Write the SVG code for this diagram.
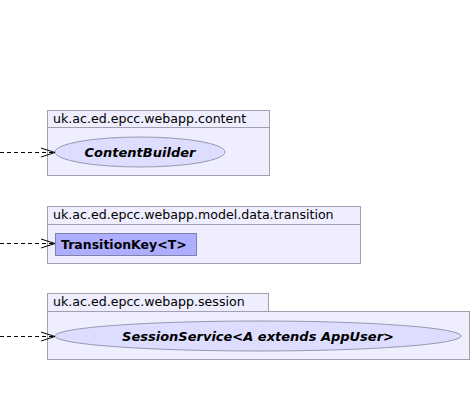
<svg xmlns="http://www.w3.org/2000/svg" width="472" height="406" viewBox="0 0 472 406">
<style>
.pkg{fill:#EEEEFF;stroke:#A0A0B0;stroke-width:1}
.pname{font-family:"DejaVu Sans",sans-serif;font-size:12.6px;fill:#000}
.iface{fill:#DDDDFF;stroke:#9898B0;stroke-width:1}
.cls{fill:#AEAEFF;stroke:#8080A8;stroke-width:1}
.bi{font-family:"DejaVu Sans",sans-serif;font-size:13px;font-weight:bold;font-style:italic;fill:#000}
.b{font-family:"DejaVu Sans",sans-serif;font-size:12.5px;font-weight:bold;fill:#000}
.dep{stroke:#000;stroke-width:1;stroke-dasharray:4,3;fill:none}
.head{stroke:#000;stroke-width:1;fill:none}
</style>
<g id="pkg-content">
<rect class="pkg" x="47.5" y="110.5" width="222" height="17"/>
<rect class="pkg" x="47.5" y="127.5" width="222" height="48"/>
<text class="pname" x="53" y="123">uk.ac.ed.epcc.webapp.content</text>
</g>
<g id="ContentBuilder">
<ellipse class="iface" cx="140" cy="152" rx="85" ry="15"/>
<text class="bi" x="140" y="157" text-anchor="middle">ContentBuilder</text>
</g>
<g id="pkg-transition">
<rect class="pkg" x="47.5" y="206.5" width="313" height="18"/>
<rect class="pkg" x="47.5" y="224.5" width="313" height="39"/>
<text class="pname" x="53" y="219">uk.ac.ed.epcc.webapp.model.data.transition</text>
</g>
<g id="TransitionKey">
<rect class="cls" x="55.5" y="233.5" width="141" height="22"/>
<text class="b" x="61" y="249">TransitionKey&lt;T&gt;</text>
</g>
<g id="pkg-session">
<rect class="pkg" x="47.5" y="293.5" width="221" height="18"/>
<rect class="pkg" x="47.5" y="311.5" width="422" height="48"/>
<text class="pname" x="53" y="306">uk.ac.ed.epcc.webapp.session</text>
</g>
<g id="SessionService">
<ellipse class="iface" cx="258" cy="336" rx="203" ry="15"/>
<text class="bi" x="258" y="341" text-anchor="middle">SessionService&lt;A extends AppUser&gt;</text>
</g>
<g id="connectors">
<line class="dep" x1="0" y1="152.5" x2="54" y2="152.5"/>
<path class="head" d="M41,148 L55,152.5 L41,157"/>
<line class="dep" x1="0" y1="243.5" x2="54" y2="243.5"/>
<path class="head" d="M41,239 L55,243.5 L41,248"/>
<line class="dep" x1="0" y1="336.5" x2="54" y2="336.5"/>
<path class="head" d="M41,332 L55,336.5 L41,341"/>
</g>
</svg>
